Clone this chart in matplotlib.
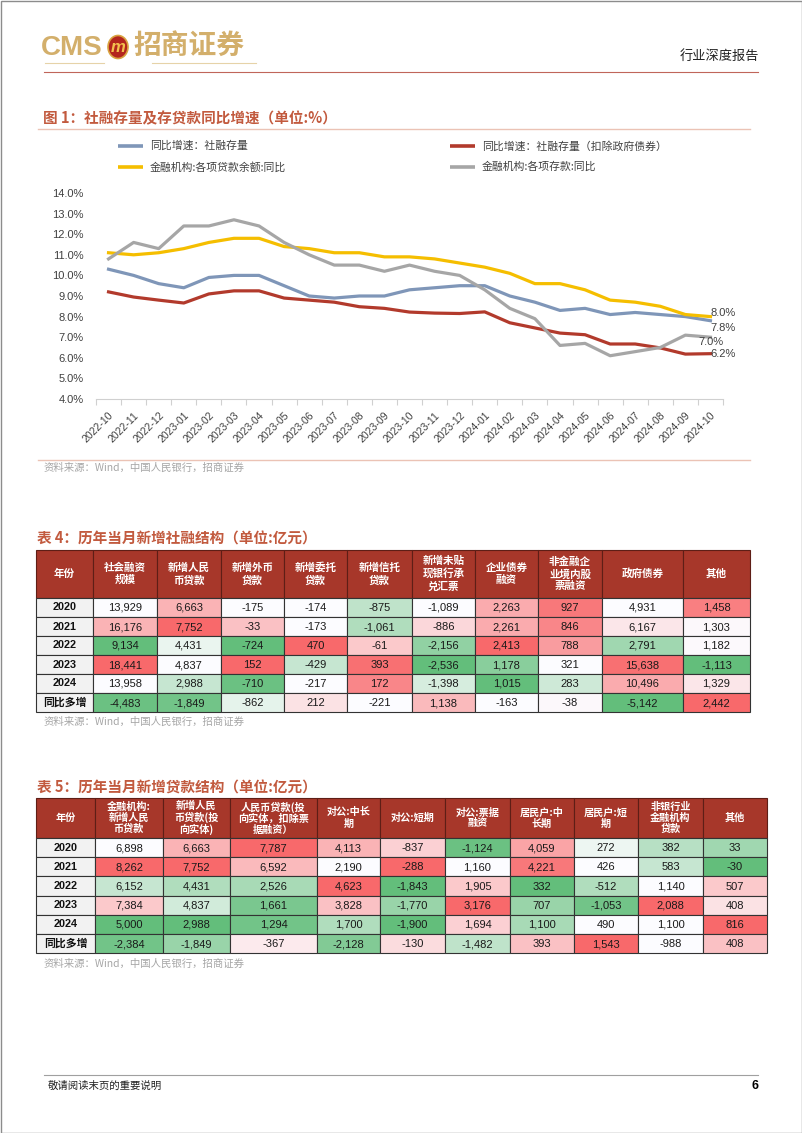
import numpy as np
import matplotlib.pyplot as plt
from matplotlib.patches import Rectangle, Ellipse

plt.rcParams['font.family'] = ['Liberation Sans', 'Noto Sans CJK SC']
CJK = ['Noto Sans CJK SC', 'Liberation Sans']

# ---------------------------
# data
# ---------------------------
months = ['2022-10', '2022-11', '2022-12', '2023-01', '2023-02', '2023-03',
          '2023-04', '2023-05', '2023-06', '2023-07', '2023-08', '2023-09',
          '2023-10', '2023-11', '2023-12', '2024-01', '2024-02', '2024-03',
          '2024-04', '2024-05', '2024-06', '2024-07', '2024-08', '2024-09',
          '2024-10']
tsf_yoy = [10.3, 10.0, 9.6, 9.4, 9.9, 10.0, 10.0, 9.5, 9.0, 8.9, 9.0, 9.0,
           9.3, 9.4, 9.5, 9.5, 9.0, 8.7, 8.3, 8.4, 8.1, 8.2, 8.1, 8.0, 7.8]
tsf_ex_gov_yoy = [9.2, 8.95, 8.8, 8.66, 9.1, 9.25, 9.25, 8.9, 8.8, 8.7, 8.48,
                  8.4, 8.22, 8.17, 8.15, 8.23, 7.7, 7.45, 7.2, 7.12, 6.67,
                  6.67, 6.48, 6.18, 6.2]
loan_yoy = [11.1, 11.0, 11.1, 11.3, 11.6, 11.8, 11.8, 11.4, 11.3, 11.1, 11.1,
            10.9, 10.9, 10.8, 10.6, 10.4, 10.1, 9.6, 9.6, 9.3, 8.8, 8.7, 8.5,
            8.1, 8.0]
deposit_yoy = [10.8, 11.6, 11.3, 12.4, 12.4, 12.7, 12.4, 11.6, 11.0, 10.5,
               10.5, 10.2, 10.5, 10.2, 10.0, 9.3, 8.4, 7.9, 6.6, 6.7, 6.1,
               6.3, 6.5, 7.1, 7.0]

series_names = ['同比增速：社融存量', '同比增速：社融存量（扣除政府债券）',
                '金融机构:各项贷款余额:同比', '金融机构:各项存款:同比']

row_labels = ['2020', '2021', '2022', '2023', '2024', '同比多增']

t4_headers = ['年份', '社会融资\n规模', '新增人民\n币贷款', '新增外币\n贷款',
              '新增委托\n贷款', '新增信托\n贷款', '新增未贴\n现银行承\n兑汇票',
              '企业债券\n融资', '非金融企\n业境内股\n票融资', '政府债券', '其他']
t4_values = [
    [13929, 6663, -175, -174, -875, -1089, 2263, 927, 4931, 1458],
    [16176, 7752, -33, -173, -1061, -886, 2261, 846, 6167, 1303],
    [9134, 4431, -724, 470, -61, -2156, 2413, 788, 2791, 1182],
    [18441, 4837, 152, -429, 393, -2536, 1178, 321, 15638, -1113],
    [13958, 2988, -710, -217, 172, -1398, 1015, 283, 10496, 1329],
    [-4483, -1849, -862, 212, -221, 1138, -163, -38, -5142, 2442],
]

t5_headers = ['年份', '金融机构:\n新增人民\n币贷款', '新增人民\n币贷款(投\n向实体)',
              '人民币贷款(投\n向实体，扣除票\n据融资）', '对公:中长\n期', '对公:短期',
              '对公:票据\n融资', '居民户:中\n长期', '居民户:短\n期',
              '非银行业\n金融机构\n贷款', '其他']
t5_values = [
    [6898, 6663, 7787, 4113, -837, -1124, 4059, 272, 382, 33],
    [8262, 7752, 6592, 2190, -288, 1160, 4221, 426, 583, -30],
    [6152, 4431, 2526, 4623, -1843, 1905, 332, -512, 1140, 507],
    [7384, 4837, 1661, 3828, -1770, 3176, 707, -1053, 2088, 408],
    [5000, 2988, 1294, 1700, -1900, 1694, 1100, 490, 1100, 816],
    [-2384, -1849, -367, -2128, -130, -1482, 393, 1543, -988, 408],
]

# ---------------------------
# styles (colour-scale shade per cell, -1 green ... +1 red)
# ---------------------------
t4_shade = [
    [0, 0.5, 0, 0, -0.4, 0, 0.55, 0.9, 0, 0.85],
    [0.5, 1.0, 0.4, 0, -0.5, 0.25, 0.55, 0.8, 0.15, 0.03],
    [-1.0, -0.12, -1.0, 1.0, 0.35, -0.7, 1.0, 0.65, -0.6, 0.02],
    [1.0, 0, 1.0, -0.35, 0.95, -1.0, -0.75, 0, 0.95, -1.0],
    [0, -0.35, -0.95, 0, 0.8, -0.25, -1.0, -0.3, 0.55, 0.15],
    [-0.95, -0.9, -0.15, 0.18, 0, 0.45, 0, 0.03, -1.0, 1.0],
]
t5_shade = [
    [0, 0.5, 1.0, 0.5, 0.3, -0.95, 0.6, -0.1, -0.45, -0.6],
    [1.0, 1.0, 0.45, 0, 1.0, 0, 0.9, 0, -0.35, -1.0],
    [-0.35, -0.5, -0.55, 1.0, -1.0, 0.35, -1.0, -0.5, 0, 0.35],
    [0.35, -0.28, -0.85, 0.4, -0.65, 1.0, -0.65, -0.9, 1.0, 0.18],
    [-1.0, -1.0, -0.9, -0.5, -1.0, 0.3, -0.55, 0, 0, 1.0],
    [-0.9, -0.65, 0.12, -0.8, 0.22, -0.4, 0.4, 1.0, 0, 0.4],
]

GREEN = np.array([99, 190, 123]) / 255
WHITE = np.array([252, 252, 255]) / 255
RED = np.array([248, 105, 107]) / 255


def shade_color(s):
    if s >= 0:
        return tuple(WHITE + (RED - WHITE) * s)
    return tuple(WHITE + (GREEN - WHITE) * (-s))


W, H = 802, 1133
fig = plt.figure(figsize=(W / 100, H / 100), dpi=100)
page = fig.add_axes([0, 0, 1, 1])
page.set_xlim(0, W)
page.set_ylim(H, 0)
page.axis('off')

# page frame
page.add_patch(Rectangle((0.5, 0.5), W - 1, H - 1, fill=False, ec='#8C8C8C', lw=1))

# ---------------------------
# header / footer
# ---------------------------
gold = '#D3AF6B'
page.text(41, 48, 'CMS', fontsize=20, fontweight='bold', color=gold, va='center', ha='left')
page.add_patch(Ellipse((118, 47), 20, 23, fc='#B3261E', ec='#D9A441', lw=1.2))
page.text(118, 47.5, 'm', fontsize=12, fontweight='bold', style='italic', color='#F2C14E',
          ha='center', va='center')
page.text(133, 46, '招商证券', fontsize=20, fontweight='bold', color=gold, va='center',
          ha='left', family=CJK)
page.plot([45, 104], [63, 63], color='#E6D3A8', lw=0.8)
page.plot([152, 256], [63, 63], color='#E6D3A8', lw=0.8)
page.text(759, 56, '行业深度报告', fontsize=9.5, color='#222222', ha='right', va='center', family=CJK)
page.plot([44, 758], [72, 72], color='#C0655A', lw=0.8)

page.plot([44, 758], [1075, 1075], color='#A0A0A0', lw=0.8)
page.text(48, 1086, '敬请阅读末页的重要说明', fontsize=7.5, color='#222222', va='center', family=CJK)
page.text(759, 1086, '6', fontsize=9, fontweight='bold', ha='right', va='center')

title_color = '#C25A3E'
source_text = '资料来源：Wind，中国人民银行，招商证券'

# ---------------------------
# chart 1
# ---------------------------
page.text(43, 118, '图 1：社融存量及存贷款同比增速（单位:%）', fontsize=10.5, fontweight='bold',
          color=title_color, va='center', family=CJK)
page.plot([38, 750], [128.5, 128.5], color='#EBC3B5', lw=1)

colors = ['#7F96B8', '#B23A2C', '#F5BE00', '#A6A6A6']
legend_pos = [(118, 146), (450, 146), (118, 167), (450, 167)]
for (lx, ly), c, name in zip(legend_pos, colors, series_names):
    page.plot([lx, lx + 25], [ly, ly], color=c, lw=2.6, solid_capstyle='butt')
    page.text(lx + 32, ly, name, fontsize=7.8, color='#404040', va='center', family=CJK)

ax = fig.add_axes([96 / W, 1 - 399 / H, 627 / W, 206 / H])
x = np.arange(len(months))
for vals, c in zip([tsf_yoy, tsf_ex_gov_yoy, loan_yoy, deposit_yoy], colors):
    ax.plot(x, vals, color=c, lw=2.3, solid_joinstyle='round')

ax.set_xlim(-0.5, len(months) - 0.5)
ax.set_ylim(4, 14)
yt = np.arange(4, 15, 1)
ax.set_yticks(yt)
ax.set_yticklabels([f'{v:.1f}%' for v in yt], fontsize=8, color='#404040')
ax.set_xticks(x)
ax.set_xticklabels(months, rotation=45, ha='right', rotation_mode='anchor',
                   fontsize=7.6, color='#404040')
ax.set_xticks(np.arange(-0.5, len(months)), minor=True)
ax.tick_params(axis='x', which='major', length=0, pad=8)
ax.tick_params(axis='x', which='minor', length=4, color='#D0D0D0', width=0.8)
ax.tick_params(axis='y', length=0, pad=9)
for s in ['top', 'right', 'left']:
    ax.spines[s].set_visible(False)
ax.spines['bottom'].set_color('#D0D0D0')
ax.spines['bottom'].set_linewidth(0.8)
ax.patch.set_alpha(0)

# end-of-series value labels (nudged apart where they crowd together)
last = len(months) - 1
end_labels = [(loan_yoy, (0, 4)), (tsf_yoy, (0, -7)), (deposit_yoy, (-12, -5)),
              (tsf_ex_gov_yoy, (0, 0))]
for vals, off in end_labels:
    ax.annotate(f'{vals[last]:.1f}%', (last, vals[last]), xytext=off,
                textcoords='offset pixels', fontsize=8, color='#404040',
                ha='left', va='center')

page.plot([38, 750], [460, 460], color='#EBC3B5', lw=1)
page.text(44, 468, source_text, fontsize=7.5, color='#A6A6A6', va='center', family=CJK)


# ---------------------------
# tables
# ---------------------------
def draw_table(top, col_edges, header_h, row_h, headers, values, shade, hsize, hspacing):
    n_rows = len(values)
    for j, head in enumerate(headers):
        x0, x1 = col_edges[j], col_edges[j + 1]
        page.add_patch(Rectangle((x0, top), x1 - x0, header_h, fc='#A7372A',
                                 ec='#5E1E16', lw=0.8))
        page.text((x0 + x1) / 2, top + header_h / 2, head, fontsize=hsize,
                  fontweight='bold', color='white', ha='center', va='center',
                  linespacing=hspacing, family=CJK)
    for i in range(n_rows):
        y0 = top + header_h + i * row_h
        x0, x1 = col_edges[0], col_edges[1]
        page.add_patch(Rectangle((x0, y0), x1 - x0, row_h, fc='#F2F2F2',
                                 ec='#333333', lw=0.8))
        page.text((x0 + x1) / 2, y0 + row_h / 2, row_labels[i], fontsize=7.8,
                  fontweight='bold', color='#111111', ha='center', va='center')
        for j, v in enumerate(values[i]):
            x0, x1 = col_edges[j + 1], col_edges[j + 2]
            page.add_patch(Rectangle((x0, y0), x1 - x0, row_h,
                                     fc=shade_color(shade[i][j]), ec='#333333', lw=0.8))
            page.text((x0 + x1) / 2, y0 + row_h / 2 + 0.5, f'{v:,}', fontsize=8,
                      color='#1A1A1A', ha='center', va='center')


page.text(37, 539, '表 4：历年当月新增社融结构（单位:亿元）', fontsize=10.5, fontweight='bold',
          color=title_color, va='center', family=CJK)
t4_edges = [36, 93, 157, 221, 284, 347, 412, 475, 538, 602, 683, 750]
draw_table(550, t4_edges, 48, 19, t4_headers, t4_values, t4_shade, 7.6, 1.25)
page.text(44, 722, source_text, fontsize=7.5, color='#A6A6A6', va='center', family=CJK)

page.text(37, 788, '表 5：历年当月新增贷款结构（单位:亿元）', fontsize=10.5, fontweight='bold',
          color=title_color, va='center', family=CJK)
t5_edges = [36, 95, 163, 230, 317, 380, 445, 510, 574, 638, 703, 767]
draw_table(798, t5_edges, 40, 19.2, t5_headers, t5_values, t5_shade, 7.3, 1.12)
page.text(44, 964, source_text, fontsize=7.5, color='#A6A6A6', va='center', family=CJK)

fig.savefig('out.png', dpi=100)
